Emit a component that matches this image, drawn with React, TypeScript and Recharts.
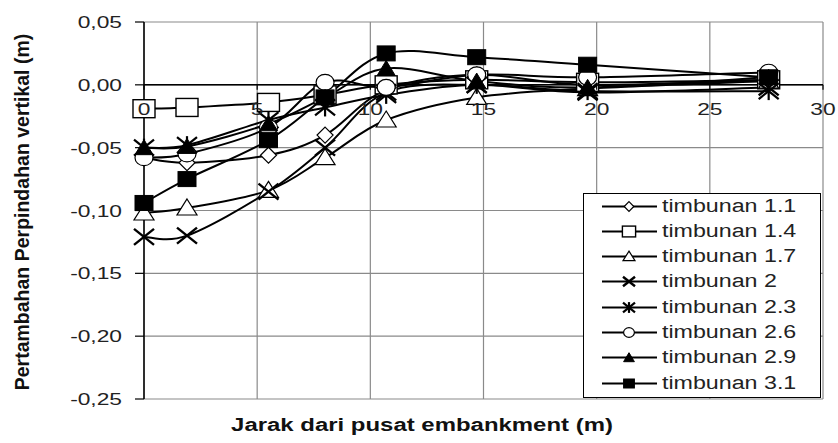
import React from 'react';
import { LineChart, Line, XAxis, YAxis, CartesianGrid, ReferenceLine } from 'recharts';

// ---- data ----
const distances = [0, 1.9, 5.5, 8.0, 10.7, 14.7, 19.6, 27.6];
const timbunan11 = [-0.058, -0.062, -0.056, -0.040, -0.004, 0.008, 0.000, 0.004];
const timbunan14 = [-0.019, -0.018, -0.014, -0.008, 0.000, 0.004, 0.002, 0.004];
const timbunan17 = [-0.102, -0.098, -0.084, -0.058, -0.028, -0.010, -0.003, 0.003];
const timbunan2 = [-0.121, -0.120, -0.085, -0.050, -0.006, 0.000, -0.006, -0.002];
const timbunan23 = [-0.050, -0.048, -0.028, -0.018, -0.008, 0.000, -0.005, -0.005];
const timbunan26 = [-0.058, -0.055, -0.034, 0.002, -0.002, 0.008, 0.006, 0.010];
const timbunan29 = [-0.050, -0.049, -0.031, -0.010, 0.013, 0.003, -0.002, 0.006];
const timbunan31 = [-0.094, -0.075, -0.044, -0.010, 0.025, 0.022, 0.016, 0.006];

const seriesNames = ['timbunan 1.1', 'timbunan 1.4', 'timbunan 1.7', 'timbunan 2', 'timbunan 2.3', 'timbunan 2.6', 'timbunan 2.9', 'timbunan 3.1'];
const seriesValues = [timbunan11, timbunan14, timbunan17, timbunan2, timbunan23, timbunan26, timbunan29, timbunan31];
const markerKinds = ['diamond', 'square', 'triangle', 'cross', 'star', 'circle', 'filledTriangle', 'filledSquare'];

const xTicks = [0, 5, 10, 15, 20, 25, 30];
const yTicks = [-0.25, -0.2, -0.15, -0.1, -0.05, 0, 0.05];
const X_MIN = 0, X_MAX = 30, Y_MIN = -0.25, Y_MAX = 0.05;

const xTitle = 'Jarak dari pusat embankment (m)';
const yTitle = 'Pertambahan Perpindahan vertikal (m)';

// ---- layout ----
const W = 838, H = 443;
const MARGIN = { top: 22, right: 15, left: 84, bottom: 14 };
const Y_AXIS_W = 60, X_AXIS_H = 30;
const PLOT_TOP = MARGIN.top;
const PLOT_H = H - MARGIN.top - MARGIN.bottom - X_AXIS_H;
const ZERO_Y = PLOT_TOP + (PLOT_H * (Y_MAX - 0)) / (Y_MAX - Y_MIN);
const FONT = 'Arial, "Liberation Sans", sans-serif';

const rows = distances.map((d, i) => {
  const r: any = { x: d };
  seriesValues.forEach((vals, k) => { r['s' + k] = vals[i]; });
  return r;
});

// Excel-like smoothed curve (Catmull-Rom style bezier)
const excelCurve: any = (context: any) => {
  let xs: number[] = [];
  let ys: number[] = [];
  return {
    areaStart() {},
    areaEnd() {},
    lineStart() { xs = []; ys = []; },
    point(x: number, y: number) { xs.push(+x); ys.push(+y); },
    lineEnd() {
      const n = xs.length;
      if (!n) return;
      context.moveTo(xs[0], ys[0]);
      for (let i = 0; i < n - 1; i++) {
        const i0 = Math.max(i - 1, 0);
        const i3 = Math.min(i + 2, n - 1);
        context.bezierCurveTo(
          xs[i] + (xs[i + 1] - xs[i0]) / 6, ys[i] + (ys[i + 1] - ys[i0]) / 6,
          xs[i + 1] - (xs[i3] - xs[i]) / 6, ys[i + 1] - (ys[i3] - ys[i]) / 6,
          xs[i + 1], ys[i + 1]
        );
      }
    },
  };
};

function Marker({ cx, cy, kind, s = 1 }: { cx: number; cy: number; kind: string; s?: number }) {
  switch (kind) {
    case 'diamond':
      return <polygon points={`${cx},${cy - 8 * s} ${cx + 8 * s},${cy} ${cx},${cy + 8 * s} ${cx - 8 * s},${cy}`} fill="#fff" stroke="#000" strokeWidth={1.2} />;
    case 'square':
      return <rect x={cx - 11 * s} y={cy - 9 * s} width={22 * s} height={18 * s} fill="#fff" stroke="#000" strokeWidth={1.4} />;
    case 'triangle':
      return <polygon points={`${cx},${cy - 9 * s} ${cx + 10 * s},${cy + 7 * s} ${cx - 10 * s},${cy + 7 * s}`} fill="#fff" stroke="#000" strokeWidth={1.2} />;
    case 'cross':
      return (
        <g stroke="#000" strokeWidth={2.4}>
          <line x1={cx - 10 * s} y1={cy - 8 * s} x2={cx + 10 * s} y2={cy + 8 * s} />
          <line x1={cx - 10 * s} y1={cy + 8 * s} x2={cx + 10 * s} y2={cy - 8 * s} />
        </g>
      );
    case 'star':
      return (
        <g stroke="#000" strokeWidth={2.2}>
          <line x1={cx - 10 * s} y1={cy - 8 * s} x2={cx + 10 * s} y2={cy + 8 * s} />
          <line x1={cx - 10 * s} y1={cy + 8 * s} x2={cx + 10 * s} y2={cy - 8 * s} />
          <line x1={cx} y1={cy - 9 * s} x2={cx} y2={cy + 9 * s} />
        </g>
      );
    case 'circle':
      return <ellipse cx={cx} cy={cy} rx={9 * s} ry={8 * s} fill="#fff" stroke="#000" strokeWidth={1.2} />;
    case 'filledTriangle':
      return <polygon points={`${cx},${cy - 8 * s} ${cx + 9 * s},${cy + 7 * s} ${cx - 9 * s},${cy + 7 * s}`} fill="#000" stroke="#000" strokeWidth={1} />;
    case 'filledSquare':
      return <rect x={cx - 9 * s} y={cy - 7.5 * s} width={18 * s} height={15 * s} fill="#000" stroke="#000" strokeWidth={1} />;
    default:
      return null;
  }
}

const makeDot = (kind: string) => (props: any) => {
  const { cx, cy, index } = props;
  if (cx == null || cy == null) return <g key={`d-${kind}-${index}`} />;
  return (
    <g key={`d-${kind}-${index}`}>
      <Marker cx={cx} cy={cy} kind={kind} />
    </g>
  );
};

const YTick = (p: any) => {
  const label = Number(p.payload.value).toFixed(2).replace('.', ',');
  return (
    <g transform={`translate(${p.x - 13},${p.y}) scale(1.34,1)`}>
      <text x={0} y={0} dy="0.36em" textAnchor="end" fontFamily={FONT} fontSize={17} fill="#222">
        {label}
      </text>
    </g>
  );
};

const XTick = (p: any) => (
  <g>
    <line x1={p.x} x2={p.x} y1={ZERO_Y} y2={ZERO_Y + 5} stroke="#000" strokeWidth={1.2} />
    <g transform={`translate(${p.x},${ZERO_Y + 30}) scale(1.34,1)`}>
      <text x={0} y={0} textAnchor="middle" fontFamily={FONT} fontSize={17} fill="#222">
        {String(p.payload.value)}
      </text>
    </g>
  </g>
);

export default function App() {
  return (
    <div style={{ position: 'absolute', left: 0, top: 0, width: W, height: H, background: '#fff' }}>
      <LineChart width={W} height={H} data={rows} margin={MARGIN}>
        <CartesianGrid stroke="#8a8a8a" strokeWidth={1.2} />
        <XAxis
          dataKey="x"
          type="number"
          domain={[X_MIN, X_MAX]}
          ticks={xTicks}
          height={X_AXIS_H}
          axisLine={false}
          tickLine={false}
          tick={<XTick />}
          interval={0}
        />
        <YAxis
          type="number"
          domain={[Y_MIN, Y_MAX]}
          ticks={yTicks}
          width={Y_AXIS_W}
          axisLine={{ stroke: '#000', strokeWidth: 1.5 }}
          tickLine={{ stroke: '#000', strokeWidth: 1.2 }}
          tickSize={9}
          tickMargin={0}
          tick={<YTick />}
          interval={0}
        />
        <ReferenceLine y={0} stroke="#000" strokeWidth={1.5} />
        {seriesNames.map((name, k) => (
          <Line
            key={name}
            name={name}
            dataKey={'s' + k}
            type={excelCurve}
            stroke="#000"
            strokeWidth={2}
            dot={makeDot(markerKinds[k])}
            activeDot={false}
            isAnimationActive={false}
          />
        ))}
      </LineChart>

      <div
        style={{
          position: 'absolute', left: 22, top: 212,
          transform: 'translate(-50%, -50%) rotate(-90deg)',
          whiteSpace: 'nowrap', fontFamily: FONT, fontWeight: 'bold', fontSize: 19.5, color: '#111',
        }}
      >
        {yTitle}
      </div>
      <div
        style={{
          position: 'absolute', left: 422, top: 425,
          transform: 'translate(-50%, -50%) scale(1.33, 1)',
          whiteSpace: 'nowrap', fontFamily: FONT, fontWeight: 'bold', fontSize: 18, color: '#111',
        }}
      >
        {xTitle}
      </div>

      <div
        style={{
          position: 'absolute', left: 583, top: 193, width: 238, height: 205, boxSizing: 'border-box',
          border: '1.5px solid #000', background: '#fff',
        }}
      >
        {seriesNames.map((name, k) => (
          <div key={name} style={{ position: 'absolute', left: 0, top: 12 - 12.5 + k * 25.3, height: 25, width: 236 }}>
            <svg width={60} height={25} style={{ position: 'absolute', left: 17, top: 0 }}>
              <line x1={1} x2={56} y1={12.5} y2={12.5} stroke="#000" strokeWidth={2} />
              <Marker cx={28} cy={12.5} kind={markerKinds[k]} s={0.6} />
            </svg>
            <div
              style={{
                position: 'absolute', left: 78, top: 0, lineHeight: '25px', whiteSpace: 'nowrap',
                fontFamily: FONT, fontSize: 18, color: '#222', transform: 'scale(1.29, 1)', transformOrigin: 'left center',
              }}
            >
              {name}
            </div>
          </div>
        ))}
      </div>
    </div>
  );
}
